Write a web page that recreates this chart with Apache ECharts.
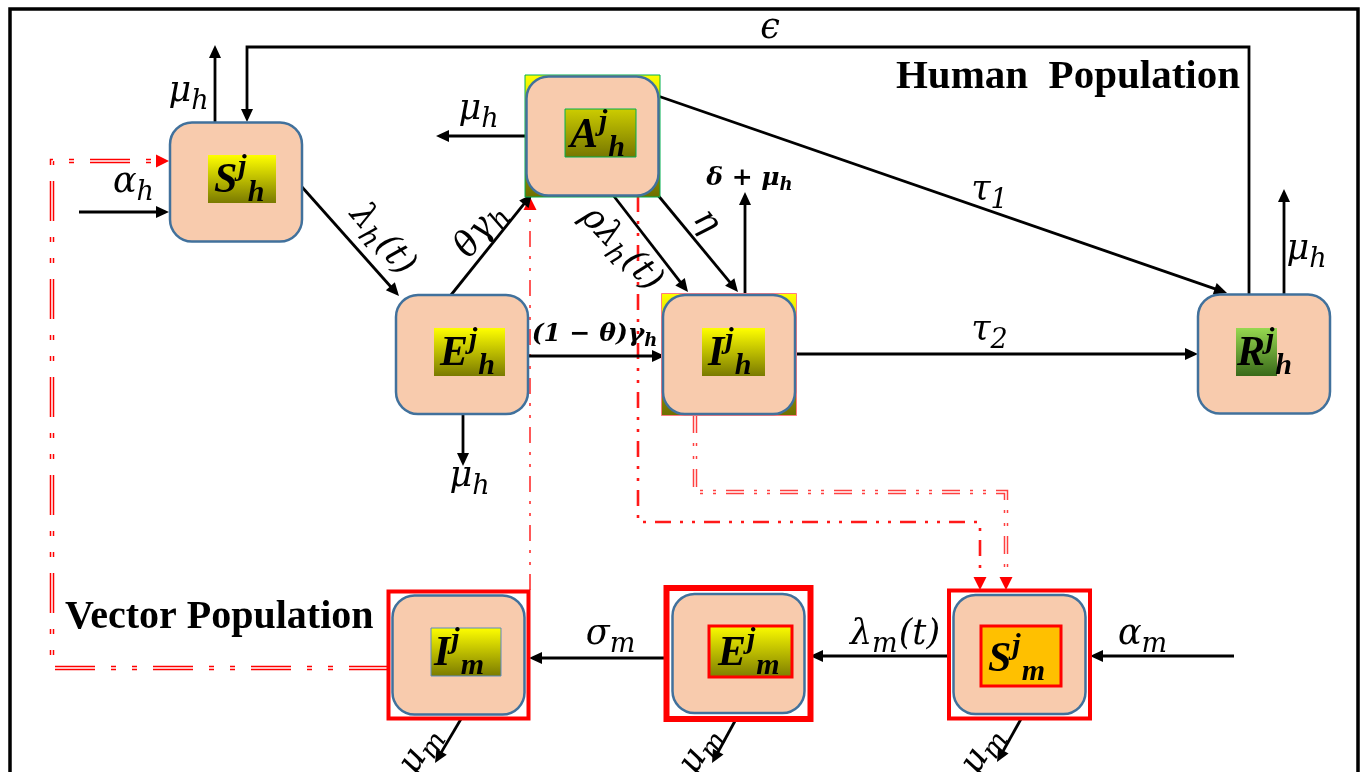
<!DOCTYPE html>
<html><head><meta charset="utf-8">
<script src="https://cdn.jsdelivr.net/npm/echarts@6/dist/echarts.min.js"></script>
<style>html,body{margin:0;padding:0;background:#fff}#c{width:1367px;height:772px}</style>
</head><body><div id="c"></div>
<script>
// ================= DATA (diagram units) =================
const compartmentNames   = ['S_h','A_h','E_h','I_h','R_h','I_m','E_m','S_m'];
const compartmentLetters = ['S','A','E','I','R','I','E','S'];
const compartmentSups    = ['j','j','j','j','j','j','j','j'];
const compartmentSubs    = ['h','h','h','h','h','m','m','m'];
const compartmentX       = [236, 592.5, 462, 729, 1264, 458.5, 738.5, 1019.5];
const compartmentY       = [182, 136, 354.5, 354.5, 354, 655, 653.5, 654.5];

// black transfer arrows (polylines, arrow at the end)
const flowPaths = [
  [[1249,296],[1249,47],[247,47],[247,122]],   // epsilon  R_h -> S_h
  [[215,122],[215,45]],                        // mu_h out of S_h
  [[79,212],[169,212]],                        // alpha_h recruitment
  [[302,187],[399,296]],                       // lambda_h(t)  S_h -> E_h
  [[451,295],[532,194]],                       // theta gamma_h  E_h -> A_h
  [[527,136],[436,136]],                       // mu_h out of A_h
  [[613,195],[688,292]],                       // rho lambda_h(t)  A_h -> I_h
  [[652,188],[738,292]],                       // eta  A_h -> I_h
  [[745,293],[745,192]],                       // delta + mu_h out of I_h
  [[658,96],[1227,293]],                       // tau_1  A_h -> R_h
  [[528,356],[665,356]],                       // (1-theta) gamma_h  E_h -> I_h
  [[796,354],[1198,354]],                      // tau_2  I_h -> R_h
  [[463,414],[463,466]],                       // mu_h out of E_h
  [[1284,295],[1284,189]],                     // mu_h out of R_h
  [[948,656],[810,656]],                       // lambda_m(t)  S_m -> E_m
  [[667,658],[529,658]],                       // sigma_m  E_m -> I_m
  [[1234,656],[1090,656]],                     // alpha_m recruitment
  [[461,719],[435,763]],                       // mu_m out of I_m
  [[735,721],[712,763]],                       // mu_m out of E_m
  [[1021,719],[997,762]]                       // mu_m out of S_m
];
const flowLabelText  = [['ϵ'],['μ','_h'],['α','_h'],['λ','_h','(t)'],['θγ','_h'],['μ','_h'],['ρλ','_h','(t)'],['η'],
                        ['δ + μ','_h'],['τ','_1'],['(1 − θ)γ','_h'],['τ','_2'],['μ','_h'],['μ','_h'],
                        ['λ','_m','(t)'],['σ','_m'],['α','_m'],['μ','_m'],['μ','_m'],['μ','_m']];
const flowLabelX     = [770,189,134,382,481,479,621,706,750,990,595,990,470,1307,895,611,1143,420,700,982];
const flowLabelY     = [29,92,183,240,230,110,249,222,178,191,334,331,477,250,635,635,635,750,750,750];
const flowLabelAngle = [0,0,0,-50,52,0,-47,-52,0,0,0,0,0,0,0,0,0,58,58,58];
const flowLabelBold  = [0,0,0,0,0,0,0,0,1,0,1,0,0,0,0,0,0,0,0,0];

// red vector-human interaction paths
const vectorPaths = [
  [[389,668],[52,668],[52,161],[169,161]],          // I_m -> S_h
  [[530,590],[530,197]],                            // I_m -> A_h
  [[638,196],[638,522],[980,522],[980,590]],        // A_h -> S_m
  [[695,415],[695,492],[1006,492],[1006,590]]       // I_h -> S_m
];
const vectorDouble = [1,0,0,1];

const groupTitles = ['Human  Population','Vector Population'];
const groupTitleX = [1240, 65];
const groupTitleY = [77, 618];
const groupTitleAlign = ['right','left'];

const framePath = [[10,800],[10,9],[1358,9],[1358,800]];

// ================= STYLE =================
const BOX_W = 132, BOX_H = 119;
const YO = ['#FFFF00','#7A7A00'];
const NODE_STYLE = {
  S_h:{ldx:6,  ldy:-3, lw:68, lh:48, grad:YO, tdx:6, tb:8},
  A_h:{ldx:8,  ldy:-3, lw:71, lh:48, grad:['#CDCD00','#767600'], border:'#00B050', bw:1, tdx:5, tb:7,
       backing:{grad:['#FFFF00','#6E6E00'], border:'#00B050'}},
  E_h:{ldx:7.5,ldy:-2.5,lw:71, lh:48, grad:YO, tdx:6, tb:8},
  I_h:{ldx:4.5,ldy:-2.5,lw:63, lh:48, grad:YO, tdx:6, tb:8,
       backing:{grad:['#FFFF00','#6E6E00'], border:'#FF7C80'}},
  R_h:{ldx:-7.5,ldy:-2, lw:41, lh:48, grad:['#96D850','#3A6A1A'], tdx:1, tb:8},
  I_m:{ldx:7.5,ldy:-3, lw:70, lh:48, grad:YO, border:'#5B8BC0', bw:1, tdx:3, tb:8, frame:{pad:4, w:4}},
  E_m:{ldx:12, ldy:-2, lw:83, lh:51, grad:YO, border:'#FF0000', bw:3, tdx:9, tb:9, frame:{pad:6, w:6}},
  S_m:{ldx:1.5,ldy:1.5,lw:80, lh:60, fill:'#FFC000', border:'#FF0000', bw:3, tdx:7, tb:12, frame:{pad:4.5, w:4}}
};
const VEC_STYLE = [
  {color:'#FF0000', width:4.5, dash:[40,16,5,16,5,16], opacity:1},
  {color:'#FF2020', width:2,   dash:[16,9,3,9,3,9],    opacity:0.75},
  {color:'#FF0000', width:2.6, dash:[16,9,3,9,3,9],    opacity:0.9},
  {color:'#FF0000', width:4.5, dash:[18,10,3,10,3,10], opacity:0.75}
];
const MATH_FAMILY = '"DejaVu Serif"';
const NODE_FAMILY = '"Liberation Serif"';

const mctx = document.createElement('canvas').getContext('2d');
function tw(t, f){ mctx.font = f; return mctx.measureText(t).width; }
function grad(c){ return new echarts.graphic.LinearGradient(0,0,0,1,[{offset:0,color:c[0]},{offset:1,color:c[1]}]); }

// pixel helpers: path in pixels -> trimmed path + arrow head polygon
function trimEndPx(p, d){
  const q = p.map(v => v.slice());
  const a = q[q.length-2], b = q[q.length-1];
  const L = Math.hypot(b[0]-a[0], b[1]-a[1]);
  b[0] -= (b[0]-a[0])/L*d; b[1] -= (b[1]-a[1])/L*d;
  return q;
}
function headPx(p, len, half){
  const a = p[p.length-2], b = p[p.length-1];
  const L = Math.hypot(b[0]-a[0], b[1]-a[1]);
  const ux = (b[0]-a[0])/L, uy = (b[1]-a[1])/L;
  const bx = b[0]-ux*len, by = b[1]-uy*len;
  return [[b[0],b[1]],[bx-uy*half, by+ux*half],[bx+uy*half, by-ux*half]];
}

function mathChildren(segs, size, subSize, bold){
  const wt = bold ? 'bold ' : '';
  const fM = `italic ${wt}${size}px ${MATH_FAMILY}`;
  const fS = `italic ${wt}${subSize}px ${MATH_FAMILY}`;
  const items = []; let x = 0;
  segs.forEach(s => {
    const sub = s[0] === '_';
    const t = sub ? s.slice(1) : s;
    const f = sub ? fS : fM;
    const w = tw(t, f);
    items.push({t, f, x, sub});
    x += w + (sub ? 1 : 0);
  });
  const W = x;
  const mainBase = 0.34*size;
  const subBase = mainBase + 0.2*size;
  return items.map(it => ({
    type:'text',
    style:{text:it.t, x: it.x - W/2, y: it.sub ? subBase - 0.34*subSize : 0,
           font: it.f, fill:'#000', align:'left', verticalAlign:'middle'}
  }));
}

// ================= CHART =================
const chart = echarts.init(document.getElementById('c'), null, {renderer:'canvas'});
const series = [];

// outer frame
series.push({type:'custom', coordinateSystem:'cartesian2d', silent:true, z:1, clip:false,
  encode:{x:0,y:1}, data:[[framePath[0][0], framePath[0][1]]],
  renderItem: function(params, api){
    return {type:'polyline', shape:{points: framePath.map(p => api.coord(p))},
            style:{stroke:'#000', lineWidth:3.5, fill:null}};
  }});

// red dashed paths
series.push({type:'custom', coordinateSystem:'cartesian2d', silent:true, z:2, clip:false,
  encode:{x:0,y:1}, data: vectorPaths.map((p,i) => [p[0][0], p[0][1], i]),
  renderItem: function(params, api){
    const i = api.value(2);
    const st = VEC_STYLE[i];
    const px = vectorPaths[i].map(p => api.coord(p));
    const ch = [];
    ch.push({type:'polyline', shape:{points: trimEndPx(px, 6)},
             style:{stroke:st.color, lineWidth:st.width, lineDash:st.dash, fill:null, opacity:st.opacity}});
    if (vectorDouble[i]){
      ch.push({type:'polyline', shape:{points: trimEndPx(px, 14)},
               style:{stroke:'#FFFFFF', lineWidth:1.5, lineDash:st.dash, fill:null}});
    }
    ch.push({type:'polygon', shape:{points: headPx(px, 13, 6.5)}, style:{fill:'#FF0000', stroke:null}});
    return {type:'group', children: ch};
  }});

// black flows
series.push({type:'custom', coordinateSystem:'cartesian2d', silent:true, z:4, clip:false,
  encode:{x:0,y:1}, data: flowPaths.map((p,i) => [p[0][0], p[0][1], i]),
  renderItem: function(params, api){
    const i = api.value(2);
    const px = flowPaths[i].map(p => api.coord(p));
    return {type:'group', children:[
      {type:'polyline', shape:{points: trimEndPx(px, 8)}, style:{stroke:'#000', lineWidth:2.8, fill:null}},
      {type:'polygon', shape:{points: headPx(px, 13, 6)}, style:{fill:'#000', stroke:null}}
    ]};
  }});

// compartments
series.push({type:'custom', coordinateSystem:'cartesian2d', silent:true, z:5, clip:false,
  encode:{x:0, y:1},
  data: compartmentNames.map((n,i) => [compartmentX[i], compartmentY[i], i]),
  renderItem: function(params, api){
    const i = api.value(2);
    const st = NODE_STYLE[compartmentNames[i]];
    const c = api.coord([api.value(0), api.value(1)]);
    const sz = api.size([BOX_W, BOX_H]);
    const x0 = c[0]-sz[0]/2, y0 = c[1]-sz[1]/2;
    const ch = [];
    if (st.frame){
      const p = st.frame.pad;
      ch.push({type:'rect', shape:{x:x0-p, y:y0-p, width:sz[0]+2*p, height:sz[1]+2*p},
               style:{fill:'#fff', stroke:'#FF0000', lineWidth:st.frame.w}});
    }
    if (st.backing){
      ch.push({type:'rect', shape:{x:x0-1.5, y:y0-1.5, width:sz[0]+3, height:sz[1]+3},
               style:{fill:grad(st.backing.grad), stroke:st.backing.border, lineWidth:1}});
    }
    ch.push({type:'rect', shape:{x:x0, y:y0, width:sz[0], height:sz[1], r:22},
             style:{fill:'#F8CBAD', stroke:'#41719C', lineWidth:2.5}});
    const lx = c[0] + st.ldx - st.lw/2, ly = c[1] + st.ldy - st.lh/2;
    ch.push({type:'rect', shape:{x:lx, y:ly, width:st.lw, height:st.lh},
             style:{fill: st.fill || grad(st.grad), stroke: st.border || null, lineWidth: st.bw || 0}});
    const fM = `italic bold 42px ${NODE_FAMILY}`;
    const fS = `italic bold 30px ${NODE_FAMILY}`;
    const base = ly + st.lh - st.tb;
    let tx = lx + st.tdx;
    const L = compartmentLetters[i], J = compartmentSups[i], H = compartmentSubs[i];
    ch.push({type:'text', style:{text:L, x:tx, y:base-0.34*42, font:fM, fill:'#000', align:'left', verticalAlign:'middle'}});
    tx += tw(L, fM) + 1;
    ch.push({type:'text', style:{text:J, x:tx, y:base-18-0.34*30, font:fS, fill:'#000', align:'left', verticalAlign:'middle'}});
    tx += tw(J, fS) + 1;
    ch.push({type:'text', style:{text:H, x:tx, y:base+8-0.34*30, font:fS, fill:'#000', align:'left', verticalAlign:'middle'}});
    return {type:'group', children: ch};
  }});

// rate labels
series.push({type:'custom', coordinateSystem:'cartesian2d', silent:true, z:6, clip:false,
  encode:{x:0, y:1},
  data: flowLabelText.map((t,i) => [flowLabelX[i], flowLabelY[i], flowLabelAngle[i], i]),
  renderItem: function(params, api){
    const i = api.value(3);
    const c = api.coord([api.value(0), api.value(1)]);
    const bold = flowLabelBold[i];
    const size = bold ? 25 : 35, sub = bold ? 18 : 27;
    return {type:'group', x:c[0], y:c[1], rotation: api.value(2)*Math.PI/180,
            children: mathChildren(flowLabelText[i], size, sub, bold)};
  }});

// group titles
series.push({type:'custom', coordinateSystem:'cartesian2d', silent:true, z:6, clip:false,
  encode:{x:0, y:1},
  data: groupTitles.map((t,i) => [groupTitleX[i], groupTitleY[i], i]),
  renderItem: function(params, api){
    const i = api.value(2);
    const c = api.coord([api.value(0), api.value(1)]);
    return {type:'text', style:{text:groupTitles[i], x:c[0], y:c[1],
      font:`bold ${i===0?41:40}px ${NODE_FAMILY}`, fill:'#000', align:groupTitleAlign[i], verticalAlign:'middle'}};
  }});

chart.setOption({
  animation:false,
  backgroundColor:'#ffffff',
  grid:{left:0, right:0, top:0, bottom:0},
  xAxis:{type:'value', min:0, max:1367, show:false},
  yAxis:{type:'value', min:0, max:772, inverse:true, show:false},
  series: series
});
</script></body></html>
